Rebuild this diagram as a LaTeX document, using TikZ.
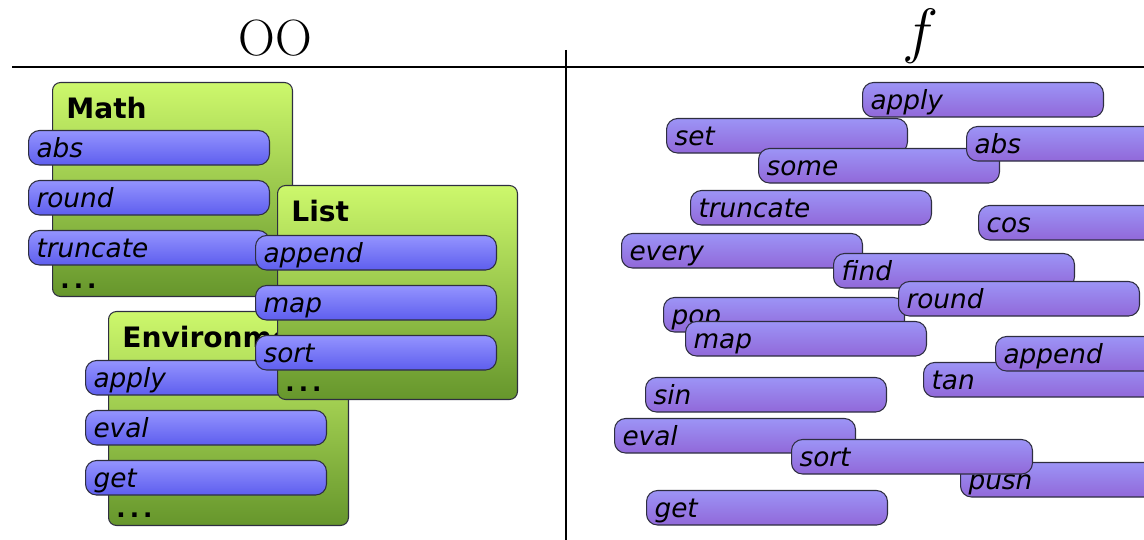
\documentclass[tikz,border=0pt]{standalone}
\usepackage{fontspec}
\usepackage{xcolor}
\newfontfamily\fnfont{DejaVu Sans}
\usetikzlibrary{positioning}

\definecolor{modtop}{HTML}{CDF86C}
\definecolor{modbot}{HTML}{66962C}
\definecolor{oofntop}{HTML}{9494FF}
\definecolor{oofnbot}{HTML}{5E5EEE}
\definecolor{freetop}{HTML}{9C94F6}
\definecolor{freebot}{HTML}{9168D9}
\definecolor{rim}{HTML}{2E2E40}

\begin{document}
\begin{tikzpicture}[x=0.02cm,y=-0.02cm]
\tikzset{module/.style={draw=rim,semithick,rounded corners=0.16cm,anchor=north west,
  top color=modtop,bottom color=modbot,minimum width=4.8cm,minimum height=4.28cm}}
\tikzset{modtitle/.style={inner sep=0pt,font=\fnfont\bfseries\fontsize{16}{18}\selectfont}}
\tikzset{moddots/.style={inner sep=0pt,font=\fnfont\bfseries\fontsize{14}{18}\selectfont}}
\tikzset{pill/.style={draw=rim,semithick,rounded corners=0.22cm,anchor=north west,
  minimum height=0.69cm,text width=4.5cm,text height=0.47cm,text depth=0.07cm,
  inner xsep=0.16cm,inner ysep=0pt,
  align=left,font=\fnfont\itshape\fontsize{15}{18}\selectfont}}
\tikzset{oofn/.style={pill,top color=oofntop,bottom color=oofnbot}}
\tikzset{freefn/.style={pill,top color=freetop,bottom color=freebot}}
\tikzset{rule/.style={line width=1.7pt}}

\useasboundingbox (0,0) rectangle (1144,540);
\clip (0,0) rectangle (1144,540);

% headings and dividers
\node[font=\fontsize{29}{32}\selectfont] (oo) at (275,38) {OO};
\node[font=\Huge,scale=1.4] (fn) at (921,36) {$f$};
\coordinate (hl) at (12,67);
\coordinate (hr) at (1150,67);
\coordinate (vt) at (566,50);
\coordinate (vb) at (566,545);
\draw[rule] (hl) -- (hr);
\draw[rule] (vt) -- (vb);

% Math
\node[module] (math) at (52,82) {};
\node[modtitle,below right=0.3cm and 0.28cm of math.north west] (mathtitle) {Math};
\node[oofn] (mabs) at (28,130) {abs};
\node[oofn] (mround) at (28,180) {round};
\node[oofn] (mtrunc) at (28,230) {truncate};
\node[moddots,above right=0.16cm and 0.16cm of math.south west] (mathdots) {.\,.\,.};

% Environment
\node[module] (env) at (108,311) {};
\node[modtitle,below right=0.3cm and 0.28cm of env.north west] (envtitle) {Environment};
\node[oofn] (eapply) at (85,360) {apply};
\node[oofn] (eeval) at (85,410) {eval};
\node[oofn] (eget) at (85,460) {get};
\node[moddots,above right=0.16cm and 0.16cm of env.south west] (envdots) {.\,.\,.};

% List
\node[module] (list) at (277,185) {};
\node[modtitle,below right=0.3cm and 0.28cm of list.north west] (listtitle) {List};
\node[oofn] (lappend) at (255,235) {append};
\node[oofn] (lmap) at (255,285) {map};
\node[oofn] (lsort) at (255,335) {sort};
\node[moddots,above right=0.16cm and 0.16cm of list.south west] (listdots) {.\,.\,.};

% free functions
\node[freefn] (fapply) at (862,82) {apply};
\node[freefn] (fset) at (666,118) {set};
\node[freefn] (fsome) at (758,148) {some};
\node[freefn] (fabs) at (966,126) {abs};
\node[freefn] (ftrunc) at (690,190) {truncate};
\node[freefn] (fcos) at (978,205) {cos};
\node[freefn] (fevery) at (621,233) {every};
\node[freefn] (ffind) at (833,253) {find};
\node[freefn] (fpop) at (663,297) {pop};
\node[freefn] (fround) at (898,281) {round};
\node[freefn] (fmap) at (685,321) {map};
\node[freefn] (ftan) at (923,362) {tan};
\node[freefn] (fappend) at (995,336) {append};
\node[freefn] (fsin) at (645,377) {sin};
\node[freefn] (feval) at (614,418) {eval};
\node[freefn] (fpush) at (960,462) {push};
\node[freefn] (fsort) at (791,439) {sort};
\node[freefn] (fget) at (646,490) {get};

\end{tikzpicture}
\end{document}
